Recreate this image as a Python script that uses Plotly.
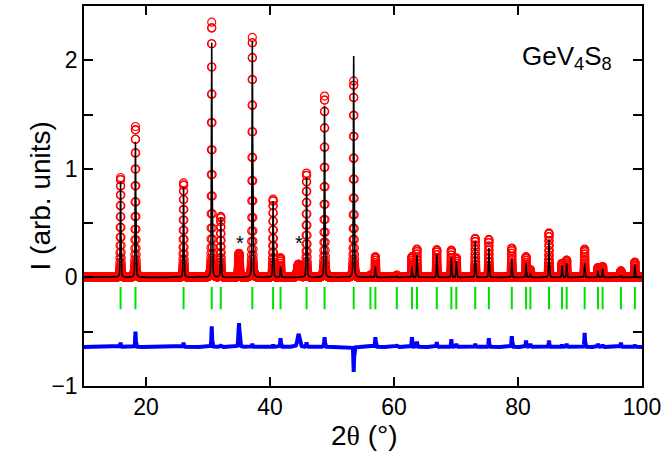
import numpy as np
import plotly.graph_objects as go

# reflection positions (2theta, deg) with observed / calculated peak heights
peak_pos = [15.9, 18.3, 26.06, 30.6, 32.06, 37.15, 40.5, 41.7, 45.9, 48.8, 53.5,
            56.2, 57.0, 60.45, 62.9, 63.7, 66.9, 69.25, 70.05, 73.1, 75.3, 79.0,
            81.3, 82.0, 85.0, 87.1, 87.85, 90.75, 92.9, 93.65, 96.6, 98.85]
peak_obs = [0.92, 1.39, 0.87, 2.35, 0.56, 2.21, 0.72, 0.18, 0.96, 1.67, 1.81,
            0.02, 0.19, 0.02, 0.19, 0.26, 0.255, 0.25, 0.18, 0.36, 0.35, 0.27,
            0.19, 0.07, 0.41, 0.13, 0.16, 0.26, 0.09, 0.10, 0.06, 0.14]
peak_calc = [0.88, 1.25, 0.83, 2.16, 0.55, 2.18, 0.70, 0.10, 0.92, 1.58, 2.04,
             0.01, 0.10, 0.01, 0.10, 0.21, 0.21, 0.18, 0.15, 0.33, 0.27, 0.17,
             0.13, 0.04, 0.35, 0.11, 0.13, 0.13, 0.06, 0.08, 0.02, 0.12]

# impurity peaks (marked with *), only in the measured pattern
imp_pos = [35.0, 44.6]
imp_obs = [0.22, 0.12]
imp_fwhm = [0.2, 0.4]

diff_offset = -0.64
tick_y = -0.19
fwhm = 0.12

tt = np.round(np.arange(10, 100.0001, 0.01), 2)


def profile(pos, height, w):
    # pseudo-voigt line shape
    g = np.exp(-4 * np.log(2) * ((tt - pos) / w) ** 2)
    l = 1 / (1 + 4 * ((tt - pos) / w) ** 2)
    return height * (0.6 * g + 0.4 * l)


y_obs = np.zeros_like(tt)
y_calc = np.zeros_like(tt)
for p, ho, hc in zip(peak_pos, peak_obs, peak_calc):
    y_obs += profile(p, ho, fwhm)
    y_calc += profile(p, hc, fwhm)
for p, h, w in zip(imp_pos, imp_obs, imp_fwhm):
    y_obs += profile(p, h, w)

y_diff = y_obs - y_calc + diff_offset

fig = go.Figure()

# observed
fig.add_trace(go.Scatter(x=tt, y=y_obs, mode="markers",
                         marker=dict(symbol="circle-open", size=8, color="#ff0000",
                                     line=dict(width=1.2))))
# calculated
fig.add_trace(go.Scatter(x=tt, y=y_calc, mode="lines",
                         line=dict(color="black", width=1.6)))
# bragg positions
fig.add_trace(go.Scatter(x=peak_pos, y=[tick_y] * len(peak_pos), mode="markers",
                         marker=dict(symbol="line-ns-open", size=16, color="#00e000",
                                     line=dict(width=2))))
# difference
fig.add_trace(go.Scatter(x=tt, y=y_diff, mode="lines",
                         line=dict(color="#0000ff", width=4)))

font = "Liberation Sans, Arial, sans-serif"

fig.add_annotation(x=87.9, y=2.03, xref="x", yref="y",
                   text="GeV<sub>4</sub>S<sub>8</sub>", showarrow=False,
                   font=dict(family=font, size=26, color="black"))
for p in imp_pos:
    fig.add_annotation(x=p + 0.1, y=0.32, text="*", showarrow=False,
                       font=dict(family=font, size=20, color="black"))

# axis titles
fig.add_annotation(xref="paper", yref="paper", x=0.502, y=0, yshift=-67, yanchor="bottom",
                   text="2<span style='font-family:Liberation Serif'>θ</span> (°)",
                   showarrow=False, font=dict(family=font, size=28, color="black"))
fig.add_annotation(xref="paper", yref="paper", x=0, xshift=-62, y=0.5, textangle=-90,
                   text="I (arb. units)", showarrow=False,
                   font=dict(family=font, size=28, color="black"))

fig.update_xaxes(range=[10, 100], tickvals=[20, 40, 60, 80, 100],
                 ticks="inside", ticklen=9, tickwidth=1.5, tickcolor="black",
                 showline=True, linewidth=1.5, linecolor="black", mirror="ticks",
                 showgrid=False, zeroline=False, automargin=False,
                 ticklabelstandoff=0,
                 tickfont=dict(family=font, size=23, color="black"))
fig.update_yaxes(range=[-1, 2.5], tickvals=[-1, 0, 1, 2],
                 ticks="inside", ticklen=9, tickwidth=1.5, tickcolor="black",
                 minor=dict(tickvals=[-0.5, 0.5, 1.5], ticks="inside", ticklen=9,
                            tickwidth=1.5, tickcolor="black"),
                 showline=True, linewidth=1.5, linecolor="black", mirror="ticks",
                 showgrid=False, zeroline=False, automargin=False,
                 tickfont=dict(family=font, size=23, color="black"))

fig.update_layout(width=665, height=457, showlegend=False,
                  margin=dict(l=84, r=23, t=6, b=71),
                  plot_bgcolor="white", paper_bgcolor="white")

fig.write_html("out.html", config={"displayModeBar": False},
               post_script="document.body.style.margin='0';")
